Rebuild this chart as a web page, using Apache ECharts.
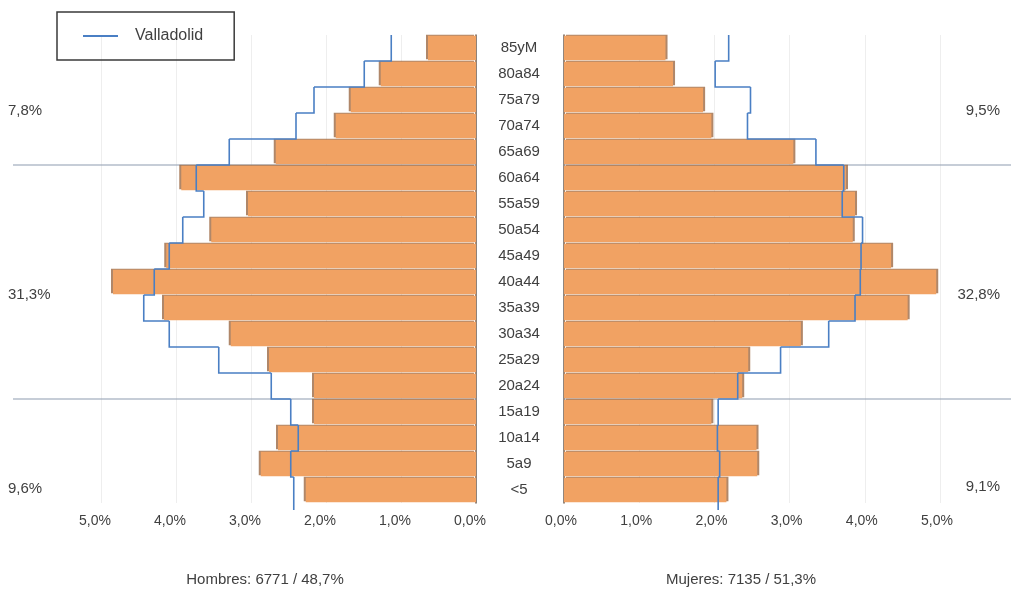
<!DOCTYPE html>
<html>
<head>
<meta charset="utf-8">
<script src="https://cdn.jsdelivr.net/npm/echarts@6/dist/echarts.min.js"></script>
<style>html,body{margin:0;padding:0;background:#fff}#c{width:1011px;height:591px}</style>
</head>
<body>
<div id="c"></div>
<script>
const categories = ['85yM','80a84','75a79','70a74','65a69','60a64','55a59','50a54','45a49','40a44','35a39','30a34','25a29','20a24','15a19','10a14','5a9','<5'];
const hombres = [0.64,1.27,1.67,1.87,2.67,3.93,3.04,3.53,4.13,4.84,4.16,3.27,2.76,2.16,2.16,2.64,2.87,2.27];
const mujeres = [1.35,1.45,1.85,1.96,3.05,3.75,3.87,3.84,4.35,4.95,4.57,3.15,2.45,2.37,1.96,2.56,2.57,2.16];
const valladolidH = [1.13,1.49,2.16,2.40,3.29,3.73,3.63,3.91,4.09,4.29,4.43,4.09,3.43,2.73,2.47,2.37,2.47,2.43];
const valladolidM = [2.19,2.01,2.48,2.44,3.35,3.72,3.70,3.97,3.95,3.94,3.87,3.52,2.88,2.31,2.05,2.04,2.07,2.05];
const groupBoundaries = [4, 13];
const leftGroupLabels = ['7,8%','31,3%','9,6%'];
const rightGroupLabels = ['9,5%','32,8%','9,1%'];
const leftTitle = 'Hombres: 6771 / 48,7%';
const rightTitle = 'Mujeres: 7135 / 51,3%';
const seriesName = 'Valladolid';

const FONT = 'Liberation Sans, Arial, sans-serif';
const TXT = '#404040';
const BAR = '#F1A263';
const BLUE = '#4A7FC4';
const fmt = v => v.toFixed(1).replace('.', ',') + '%';

function stepRender(vals) {
  return function (params, api) {
    const i = params.dataIndex;
    const p = api.coord([api.value(0), i]);
    const h = api.size([0, 1])[1];
    const pts = [[p[0], p[1] - h / 2], [p[0], p[1] + h / 2]];
    if (i < vals.length - 1) {
      const q = api.coord([vals[i + 1], i + 1]);
      pts.push([q[0], p[1] + h / 2]);
    } else {
      pts[1][1] += 7;
    }
    return {type: 'polyline', shape: {points: pts}, style: {stroke: BLUE, lineWidth: 1.6, fill: null}};
  };
}
function boundaryRender(side) {
  return function (params, api) {
    const idx = api.value(0);
    const p = api.coord([0, idx]);
    const h = api.size([0, 1])[1];
    const y = p[1] + h / 2;
    const cs = params.coordSys;
    const x1 = side === 'left' ? 13 : cs.x;
    const x2 = side === 'left' ? cs.x + cs.width : 1011;
    return {type: 'line', shape: {x1: x1, y1: y, x2: x2, y2: y}, style: {stroke: '#8E9BB0', lineWidth: 1.2}};
  };
}

const xAxisBase = {
  type: 'value', min: 0, max: 5, interval: 1,
  axisLine: {show: false}, axisTick: {show: false},
  splitLine: {show: true, lineStyle: {color: '#EEEEEE', width: 1}},
  axisLabel: {formatter: fmt, fontFamily: FONT, fontSize: 14, color: TXT, margin: 11}
};

const chart = echarts.init(document.getElementById('c'));
chart.setOption({
  animation: false,
  backgroundColor: '#ffffff',
  legend: {
    data: [{name: seriesName}],
    left: 57, top: 12,
    borderColor: '#3a3a3a', borderWidth: 1.5, borderRadius: 0,
    padding: [16, 31, 16, 26],
    icon: 'rect', itemWidth: 35, itemHeight: 2,
    selectedMode: false,
    textStyle: {fontFamily: FONT, fontSize: 16, color: TXT, padding: [0, 0, 0, 12]}
  },
  grid: [
    {left: 101, width: 375, top: 35, height: 468},
    {left: 564, width: 376, top: 35, height: 468}
  ],
  xAxis: [
    Object.assign({}, xAxisBase, {gridIndex: 0, inverse: true,
      axisLabel: Object.assign({}, xAxisBase.axisLabel, {padding: [0, 12, 0, 0]})}),
    Object.assign({}, xAxisBase, {gridIndex: 1,
      axisLabel: Object.assign({}, xAxisBase.axisLabel, {padding: [0, 6, 0, 0]})})
  ],
  yAxis: [
    {type: 'category', gridIndex: 0, data: categories, inverse: true, position: 'right',
      axisTick: {show: false},
      axisLine: {show: true, lineStyle: {color: '#6E5E52', width: 1.5}},
      axisLabel: {align: 'center', margin: 43, fontFamily: FONT, fontSize: 15, color: TXT}},
    {type: 'category', gridIndex: 1, data: categories, inverse: true, position: 'left',
      axisTick: {show: false},
      axisLine: {show: true, lineStyle: {color: '#6E5E52', width: 1.5}},
      axisLabel: {show: false}}
  ],
  series: [
    {type: 'custom', name: 'sepL', xAxisIndex: 0, yAxisIndex: 0, z: 1, silent: true,
      renderItem: boundaryRender('left'), data: groupBoundaries.map(v => [v]), encode: {y: 0}},
    {type: 'custom', name: 'sepR', xAxisIndex: 1, yAxisIndex: 1, z: 1, silent: true,
      renderItem: boundaryRender('right'), data: groupBoundaries.map(v => [v]), encode: {y: 0}},
    {type: 'bar', name: 'Hombres', xAxisIndex: 0, yAxisIndex: 0, data: hombres, barCategoryGap: '6%', z: 2,
      itemStyle: {color: BAR,
        shadowColor: 'rgba(150,95,55,0.75)', shadowOffsetX: -2, shadowOffsetY: -1, shadowBlur: 0}},
    {type: 'bar', name: 'Mujeres', xAxisIndex: 1, yAxisIndex: 1, data: mujeres, barCategoryGap: '6%', z: 2,
      itemStyle: {color: BAR,
        shadowColor: 'rgba(150,95,55,0.75)', shadowOffsetX: 2, shadowOffsetY: -1, shadowBlur: 0}},
    {type: 'custom', name: seriesName, xAxisIndex: 0, yAxisIndex: 0, z: 5, color: BLUE,
      itemStyle: {color: BLUE},
      renderItem: stepRender(valladolidH), data: valladolidH.map((v, i) => [v, i]), encode: {x: 0, y: 1}},
    {type: 'custom', name: seriesName, xAxisIndex: 1, yAxisIndex: 1, z: 5, color: BLUE,
      itemStyle: {color: BLUE},
      renderItem: stepRender(valladolidM), data: valladolidM.map((v, i) => [v, i]), encode: {x: 0, y: 1}}
  ],
  graphic: [
    {type: 'text', left: 8, top: 103, style: {text: leftGroupLabels[0], font: '15px ' + FONT, fill: TXT}},
    {type: 'text', left: 8, top: 287, style: {text: leftGroupLabels[1], font: '15px ' + FONT, fill: TXT}},
    {type: 'text', left: 8, top: 481, style: {text: leftGroupLabels[2], font: '15px ' + FONT, fill: TXT}},
    {type: 'text', right: 11, top: 103, style: {text: rightGroupLabels[0], font: '15px ' + FONT, fill: TXT}},
    {type: 'text', right: 11, top: 287, style: {text: rightGroupLabels[1], font: '15px ' + FONT, fill: TXT}},
    {type: 'text', right: 11, top: 479, style: {text: rightGroupLabels[2], font: '15px ' + FONT, fill: TXT}},
    {type: 'text', x: 265, y: 580, style: {text: leftTitle, font: '15px ' + FONT, fill: TXT, align: 'center', verticalAlign: 'middle'}},
    {type: 'text', x: 741, y: 580, style: {text: rightTitle, font: '15px ' + FONT, fill: TXT, align: 'center', verticalAlign: 'middle'}}
  ]
});
</script>
</body>
</html>
